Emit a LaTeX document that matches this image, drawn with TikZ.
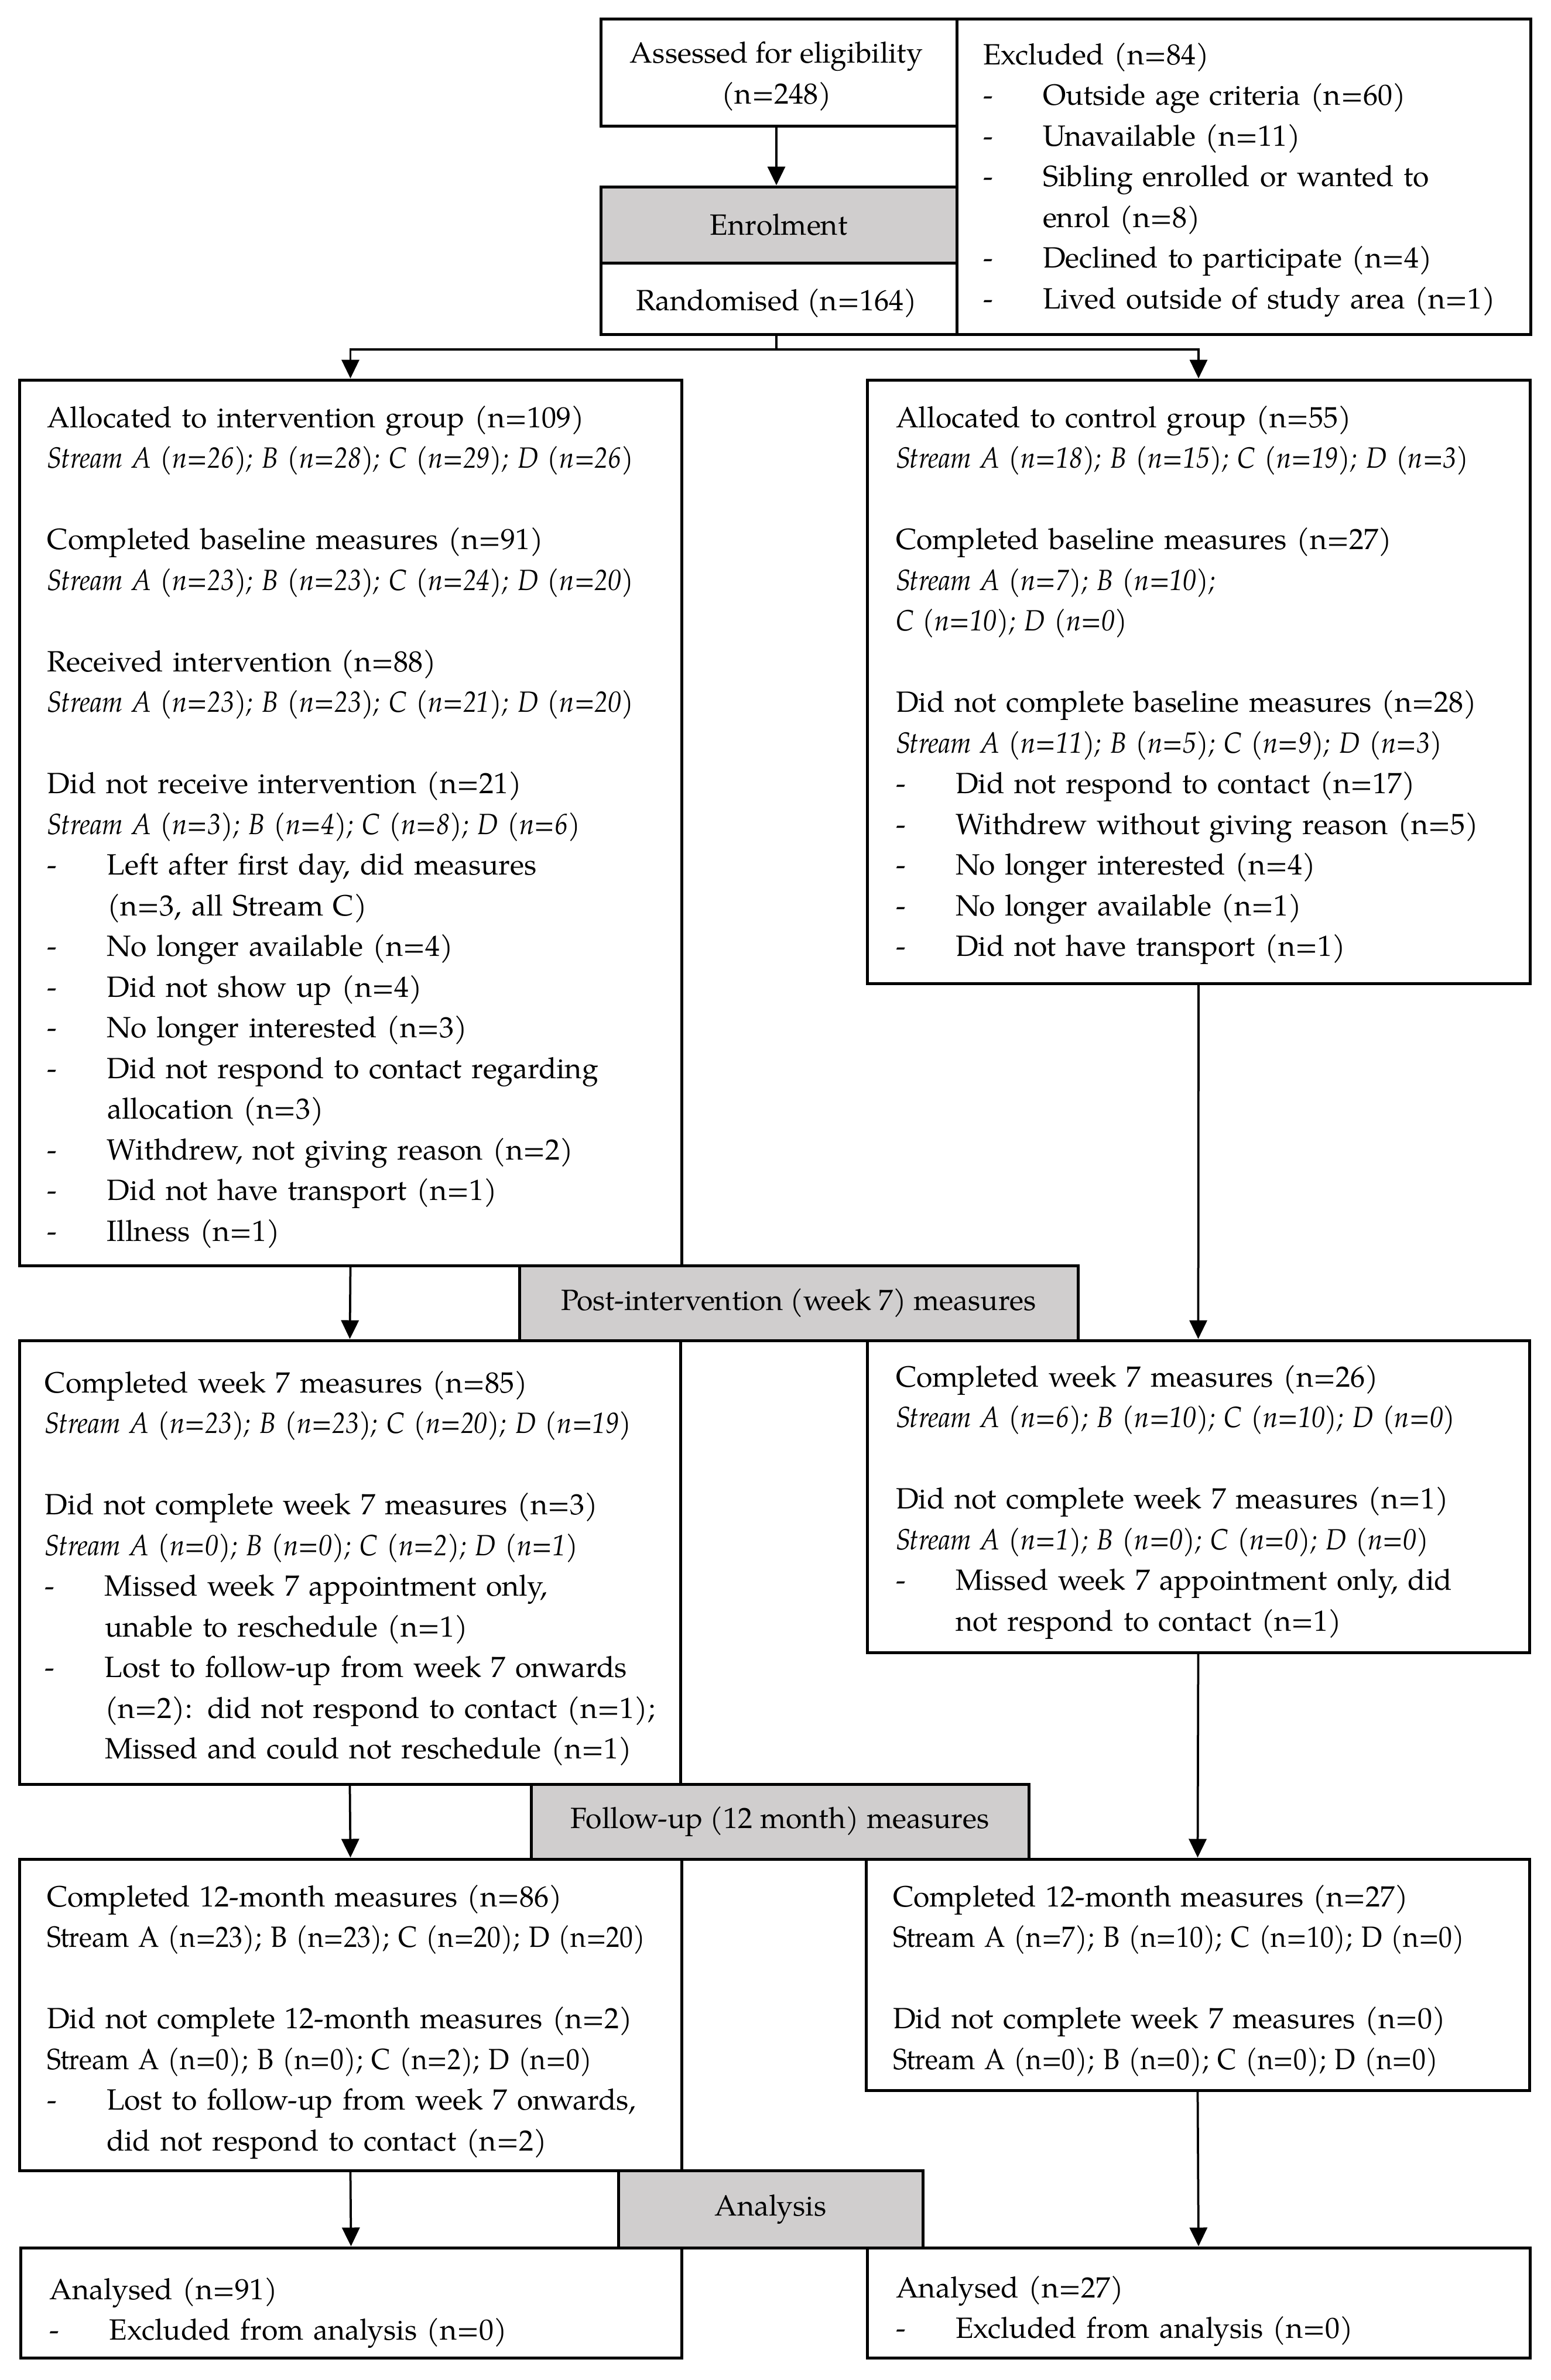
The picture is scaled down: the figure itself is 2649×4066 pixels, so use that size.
\documentclass[tikz,border=0pt]{standalone}
\usepackage{fontspec}
\usepackage{graphicx}
\IfFontExistsTF{TeX Gyre Pagella}{\setmainfont{TeX Gyre Pagella}}{\setmainfont{Liberation Serif}}
\usetikzlibrary{arrows.meta,fit}
\definecolor{boxgray}{RGB}{208,206,206}
\newcommand\dashit{\makebox[20.4pt][l]{-}}
\newcommand\contit{\hspace*{20.4pt}}
\newcommand\strm[1]{\scalebox{0.913}[1]{#1}}
\tikzset{
  box/.style={draw, line width=1pt, inner sep=0pt, fill=white},
  graybox/.style={box, fill=boxgray},
  conn/.style={line width=0.75pt},
  arr/.style={conn, -{Triangle[length=6.4pt,width=6pt]}},
  txt/.style={anchor=base west, inner sep=0pt, align=left, text width=250pt,
    font=\fontsize{10pt}{13.9pt}\selectfont},
  ctxt/.style={inner sep=0pt, align=center, font=\fontsize{10pt}{13.9pt}\selectfont}
}
\begin{document}
\begin{tikzpicture}[x=0.2pt,y=-0.2pt]
\useasboundingbox (0,0) rectangle (2649,4066);
% boxes
\node[box, fit={(1026,32) (1634,215)}] (assess) {};
\node[box, fit={(1634,32) (2614,571)}] (excl) {};
\node[graybox, fit={(1026,319) (1634,449)}] (enrol) {};
\node[box, fit={(1026,449) (1634,571)}] (rand) {};
\node[box, fit={(33,649) (1164,2162)}] (L1) {};
\node[box, fit={(1481,649) (2613,1680)}] (R1) {};
\node[box, fit={(33,2290) (1162,3048)}] (L2) {};
\node[box, fit={(1481,2290) (2612,2823)}] (R2) {};
\node[box, fit={(33,3176) (1164,3708)}] (L3) {};
\node[box, fit={(1479,3176) (2612,3571)}] (R3) {};
\node[box, fit={(35,3840) (1164,4028)}] (L4) {};
\node[box, fit={(1481,3840) (2613,4028)}] (R4) {};
\node[graybox, fit={(887,2162) (1841,2290)}] (post) {};
\node[graybox, fit={(907,3048) (1757,3176)}] (follow) {};
\node[graybox, fit={(1056,3708) (1576,3840)}] (anal) {};
% gray labels
\node[ctxt] (enrolT) at (enrol.center) {Enrolment};
\node[ctxt] (postT) at (post.center) {Post-intervention (week 7) measures};
\node[ctxt] (followT) at (follow.center) {Follow-up (12 month) measures};
\node[ctxt] (analT) at (anal.center) {Analysis};
% texts
\node[ctxt, anchor=base] (assessT) at (1326,177) {Assessed for eligibility\\(n=248)};
\node[ctxt, anchor=base] (randT) at (1326,530) {Randomised (n=164)};
\node[txt] (exclT) at (1678,110) {Excluded (n=84)\\
\dashit Outside age criteria (n=60)\\
\dashit Unavailable (n=11)\\
\dashit Sibling enrolled or wanted to\\
\contit enrol (n=8)\\
\dashit Declined to participate (n=4)\\
\dashit Lived outside of study area (n=1)};
\node[txt] (L1T) at (80,730) {Allocated to intervention group (n=109)\\
\strm{\textit{Stream A (n=26); B (n=28); C (n=29); D (n=26)}}\\
\mbox{}\\
Completed baseline measures (n=91)\\
\strm{\textit{Stream A (n=23); B (n=23); C (n=24); D (n=20)}}\\
\mbox{}\\
Received intervention (n=88)\\
\strm{\textit{Stream A (n=23); B (n=23); C (n=21); D (n=20)}}\\
\mbox{}\\
Did not receive intervention (n=21)\\
\strm{\textit{Stream A (n=3); B (n=4); C (n=8); D (n=6)}}\\
\dashit Left after first day, did measures\\
\contit (n=3, all Stream C)\\
\dashit No longer available (n=4)\\
\dashit Did not show up (n=4)\\
\dashit No longer interested (n=3)\\
\dashit Did not respond to contact regarding\\
\contit allocation (n=3)\\
\dashit Withdrew, not giving reason (n=2)\\
\dashit Did not have transport (n=1)\\
\dashit Illness (n=1)};
\node[txt] (R1T) at (1529,730) {Allocated to control group (n=55)\\
\strm{\textit{Stream A (n=18); B (n=15); C (n=19); D (n=3)}}\\
\mbox{}\\
Completed baseline measures (n=27)\\
\strm{\textit{Stream A (n=7); B (n=10);}}\\
\strm{\textit{C (n=10); D (n=0)}}\\
\mbox{}\\
Did not complete baseline measures (n=28)\\
\strm{\textit{Stream A (n=11); B (n=5); C (n=9); D (n=3)}}\\
\dashit Did not respond to contact (n=17)\\
\dashit Withdrew without giving reason (n=5)\\
\dashit No longer interested (n=4)\\
\dashit No longer available (n=1)\\
\dashit Did not have transport (n=1)};
\node[txt] (L2T) at (76,2379) {Completed week 7 measures (n=85)\\
\strm{\textit{Stream A (n=23); B (n=23); C (n=20); D (n=19)}}\\
\mbox{}\\
Did not complete week 7 measures (n=3)\\
\strm{\textit{Stream A (n=0); B (n=0); C (n=2); D (n=1)}}\\
\dashit Missed week 7 appointment only,\\
\contit unable to reschedule (n=1)\\
\dashit Lost to follow-up from week 7 onwards\\
\contit (n=2): did not respond to contact (n=1);\\
\contit Missed and could not reschedule (n=1)};
\node[txt] (R2T) at (1529,2369) {Completed week 7 measures (n=26)\\
\strm{\textit{Stream A (n=6); B (n=10); C (n=10); D (n=0)}}\\
\mbox{}\\
Did not complete week 7 measures (n=1)\\
\strm{\textit{Stream A (n=1); B (n=0); C (n=0); D (n=0)}}\\
\dashit Missed week 7 appointment only, did\\
\contit not respond to contact (n=1)};
\node[txt] (L3T) at (79,3257) {Completed 12-month measures (n=86)\\
\strm{Stream A (n=23); B (n=23); C (n=20); D (n=20)}\\
\mbox{}\\
Did not complete 12-month measures (n=2)\\
\strm{Stream A (n=0); B (n=0); C (n=2); D (n=0)}\\
\dashit Lost to follow-up from week 7 onwards,\\
\contit did not respond to contact (n=2)};
\node[txt] (R3T) at (1524,3257) {Completed 12-month measures (n=27)\\
\strm{Stream A (n=7); B (n=10); C (n=10); D (n=0)}\\
\mbox{}\\
Did not complete week 7 measures (n=0)\\
\strm{Stream A (n=0); B (n=0); C (n=0); D (n=0)}};
\node[txt] (L4T) at (84,3928) {Analysed (n=91)\\
\dashit Excluded from analysis (n=0)};
\node[txt] (R4T) at (1529,3925) {Analysed (n=27)\\
\dashit Excluded from analysis (n=0)};
% connectors
\coordinate (split) at (1326,597);
\draw[arr] (assess.south -| 1326,0) -- (enrol.north -| 1326,0);
\draw[conn] (rand.south -| split) -- (split);
\draw[arr] (split) -| (L1.north);
\draw[arr] (split) -| (R1.north);
\draw[arr] (L1.south) -- (L2.north);
\draw[arr] (R1.south) -- (R2.north);
\draw[arr] (L2.south) -- (L3.north);
\draw[arr] (R2.south) -- (R3.north);
\draw[arr] (L3.south) -- (L4.north);
\draw[arr] (R3.south) -- (R4.north);
\end{tikzpicture}
\end{document}
